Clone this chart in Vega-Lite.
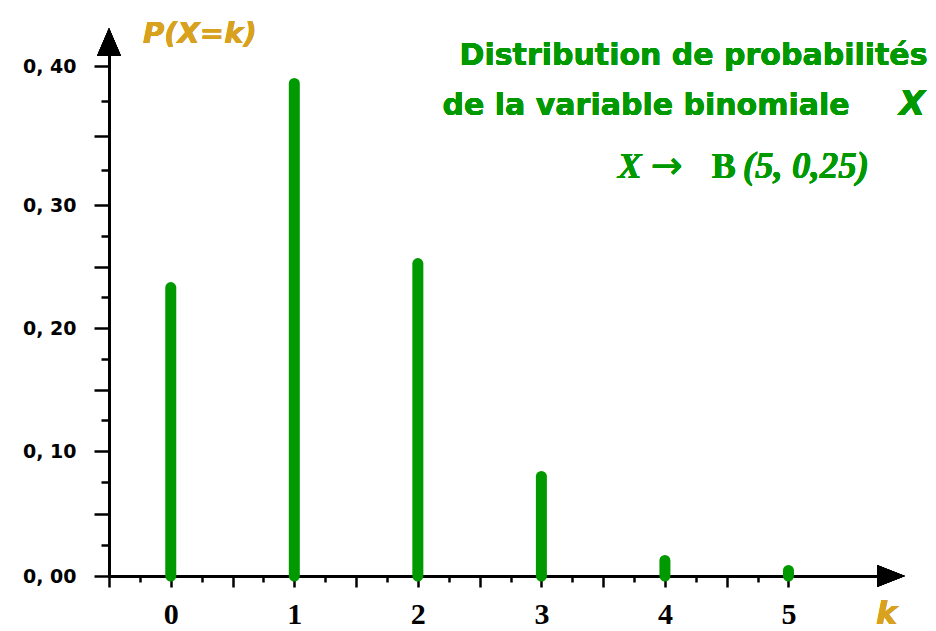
{
  "$schema": "https://vega.github.io/schema/vega-lite/v6.json",
  "autosize": {"type": "none"},
  "width": 782,
  "height": 534,
  "padding": {"left": 109, "top": 42, "right": 45, "bottom": 55},
  "background": "white",
  "config": {"view": {"stroke": null}},
  "data": {"values": [
    {"k": 0, "p": 0.2329},
    {"k": 1, "p": 0.3874},
    {"k": 2, "p": 0.2524},
    {"k": 3, "p": 0.0796},
    {"k": 4, "p": 0.0124},
    {"k": 5, "p": 0.0044}
  ]},
  "layer": [
    {
      "mark": {"type": "rule", "color": "#009a00", "strokeWidth": 11, "strokeCap": "round"},
      "encoding": {
        "x": {
          "field": "k", "type": "quantitative",
          "scale": {"domain": [-0.5, 5.83], "nice": false, "zero": false},
          "axis": {
            "title": null, "grid": false, "tickCount": 200,
            "values": [-0.5, -0.25, 0, 0.25, 0.5, 0.75, 1, 1.25, 1.5, 1.75, 2, 2.25, 2.5, 2.75, 3, 3.25, 3.5, 3.75, 4, 4.25, 4.5, 4.75, 5],
            "domainColor": "black", "domainWidth": 3,
            "tickColor": "black", "tickWidth": 2.5,
            "tickSize": {"condition": {"test": "round(datum.value*100) % 50 === 0", "value": 11}, "value": 6},
            "labelExpr": "datum.value >= 0 && round(datum.value*100) % 100 === 0 ? format(datum.value, 'd') : ''",
            "labelFont": "Liberation Serif", "labelFontWeight": "bold", "labelFontSize": 30,
            "labelColor": "black", "labelPadding": 12,
            "labelOverlap": false, "labelFlush": false, "labelBound": false
          }
        },
        "y": {
          "field": "p", "type": "quantitative",
          "scale": {"domain": [0, 0.1, 0.2, 0.3, 0.4, 0.4173], "range": [534, 409, 286, 163, 24, 0], "nice": false, "zero": false},
          "axis": {
            "title": null, "grid": false, "tickCount": 200,
            "values": [0, 0.025, 0.05, 0.075, 0.1, 0.125, 0.15, 0.175, 0.2, 0.225, 0.25, 0.275, 0.3, 0.325, 0.35, 0.375, 0.4],
            "domainColor": "black", "domainWidth": 3,
            "tickColor": "black", "tickWidth": 2.5,
            "tickSize": {"condition": {"test": "round(datum.value*1000) % 50 === 0", "value": 15}, "value": 8},
            "labelExpr": "round(datum.value*1000) % 100 === 0 ? replace(format(datum.value, '.2f'), '.', ', ') : ''",
            "labelFont": "DejaVu Sans", "labelFontWeight": "bold", "labelFontSize": 19,
            "labelColor": "black", "labelPadding": 18, "labelBaseline": "middle",
            "labelOverlap": false, "labelFlush": false, "labelBound": false
          }
        },
        "y2": {"datum": 0}
      }
    },
    {
      "mark": {"type": "point", "shape": "M0,-1L0.857,1L-0.857,1Z", "filled": true, "color": "black", "opacity": 1, "size": 784},
      "encoding": {"x": {"datum": -0.5}, "y": {"datum": 0.4173}}
    },
    {
      "mark": {"type": "point", "shape": "M1,0L-1,0.786L-1,-0.786Z", "filled": true, "color": "black", "opacity": 1, "size": 784},
      "encoding": {"x": {"datum": 5.83}, "y": {"datum": 0}}
    },
    {
      "mark": {"type": "text", "text": "P(X=k)", "font": "DejaVu Sans", "fontWeight": "bold", "fontStyle": "oblique", "fontSize": 29, "color": "#d8a21e", "align": "left", "baseline": "alphabetic"},
      "encoding": {"x": {"datum": -0.225}, "y": {"datum": 0.4165}}
    },
    {
      "mark": {"type": "text", "text": "k", "font": "DejaVu Sans", "fontWeight": "bold", "fontStyle": "oblique", "fontSize": 32, "color": "#d8a21e", "align": "center", "baseline": "alphabetic"},
      "encoding": {"x": {"datum": 5.794}, "y": {"datum": -0.0384}}
    },
    {
      "mark": {"type": "text", "text": "Distribution de probabilités", "font": "DejaVu Sans", "fontWeight": "bold", "fontSize": 30, "color": "#009a00", "align": "right", "baseline": "alphabetic"},
      "encoding": {"x": {"datum": 6.126}, "y": {"datum": 0.4007}}
    },
    {
      "mark": {"type": "text", "text": "de la variable binomiale", "font": "DejaVu Sans", "fontWeight": "bold", "fontSize": 30, "color": "#009a00", "align": "right", "baseline": "alphabetic"},
      "encoding": {"x": {"datum": 5.495}, "y": {"datum": 0.3647}}
    },
    {
      "mark": {"type": "text", "text": "X", "font": "DejaVu Sans", "fontWeight": "bold", "fontStyle": "oblique", "fontSize": 34, "color": "#009a00", "align": "left", "baseline": "alphabetic"},
      "encoding": {"x": {"datum": 5.895}, "y": {"datum": 0.3647}}
    },
    {
      "mark": {"type": "text", "text": "X", "font": "Liberation Serif", "fontWeight": "bold", "fontStyle": "italic", "fontSize": 36, "color": "#009a00", "align": "left", "baseline": "alphabetic"},
      "encoding": {"x": {"datum": 3.618}, "y": {"datum": 0.3194}}
    },
    {
      "mark": {"type": "text", "text": "→", "font": "DejaVu Sans", "fontSize": 38, "color": "#009a00", "align": "left", "baseline": "alphabetic"},
      "encoding": {"x": {"datum": 3.885}, "y": {"datum": 0.3194}}
    },
    {
      "mark": {"type": "text", "text": "B", "font": "Liberation Serif", "fontWeight": "bold", "fontSize": 36, "color": "#009a00", "align": "left", "baseline": "alphabetic"},
      "encoding": {"x": {"datum": 4.38}, "y": {"datum": 0.3194}}
    },
    {
      "mark": {"type": "text", "text": "(5, 0,25)", "font": "Liberation Serif", "fontWeight": "bold", "fontStyle": "italic", "fontSize": 37, "color": "#009a00", "align": "left", "baseline": "alphabetic"},
      "encoding": {"x": {"datum": 4.629}, "y": {"datum": 0.3194}}
    }
  ]
}
